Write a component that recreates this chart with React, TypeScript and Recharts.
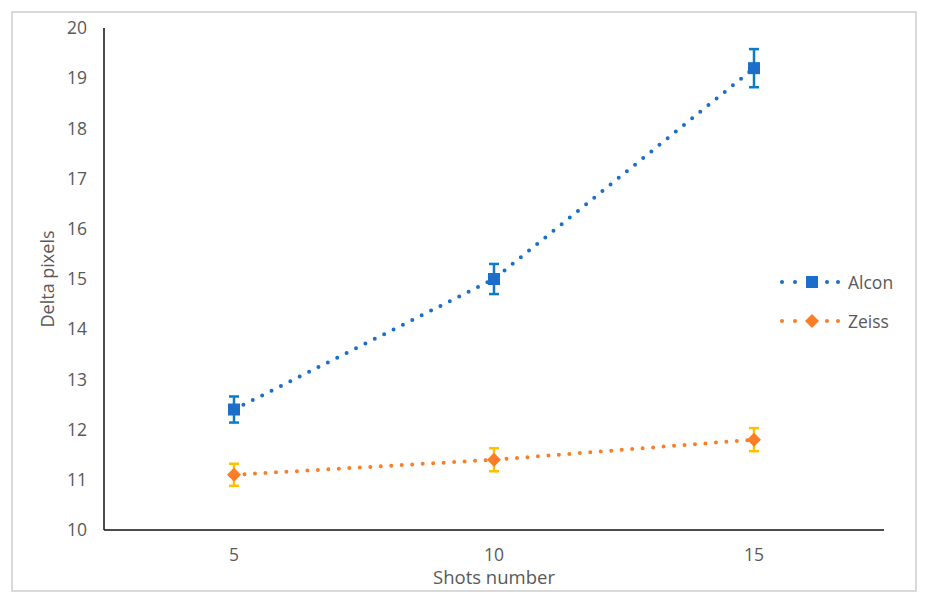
import React from "react"
import { LineChart, Line, XAxis, YAxis, ErrorBar } from "recharts"

const shots = [5, 10, 15]
const alcon = [12.4, 15.0, 19.2]
const alconErr = [0.26, 0.3, 0.38]
const zeiss = [11.1, 11.4, 11.8]
const zeissErr = [0.22, 0.23, 0.23]
const yTicks = [10, 11, 12, 13, 14, 15, 16, 17, 18, 19, 20]
const seriesNames = ["Alcon", "Zeiss"]

const BLUE = "#1B6FCB"
const BLUE_ERR = "#0B7DC8"
const ORANGE = "#FB7D26"
const YELLOW = "#FFC000"
const TEXT = "#595959"
const FONT = "'Open Sans', sans-serif"

const data = shots.map((s, i) => ({
  shots: s,
  alcon: alcon[i],
  alconErr: alconErr[i],
  zeiss: zeiss[i],
  zeissErr: zeissErr[i],
}))

function SquareDot(props: any) {
  const { cx, cy } = props
  if (cx == null || cy == null) return null
  return <rect x={cx - 6} y={cy - 6} width={12} height={12} fill={BLUE} />
}

function DiamondDot(props: any) {
  const { cx, cy } = props
  if (cx == null || cy == null) return null
  return <path d={`M${cx},${cy - 7}L${cx + 7},${cy}L${cx},${cy + 7}L${cx - 7},${cy}Z`} fill={ORANGE} />
}

// legend swatch: dotted line with the series marker in the middle
function LegendIcon({ kind }: { kind: "square" | "diamond" }) {
  const color = kind === "square" ? BLUE : ORANGE
  return (
    <svg width={62} height={16} style={{ display: "block" }}>
      {[2, 15, 47, 58].map((x) => (
        <circle key={x} cx={x} cy={8} r={2} fill={color} />
      ))}
      {kind === "square" ? (
        <rect x={26} y={2} width={12} height={12} fill={color} />
      ) : (
        <path d="M32,1L39,8L32,15L25,8Z" fill={color} />
      )}
    </svg>
  )
}

function ChartLegend() {
  const kinds: Array<"square" | "diamond"> = ["square", "diamond"]
  return (
    <div style={{ position: "absolute", left: 767, top: 249, fontFamily: FONT, color: TEXT, fontSize: 17.5 }}>
      {seriesNames.map((name, i) => (
        <div key={name} style={{ display: "flex", alignItems: "center", height: 39 }}>
          <LegendIcon kind={kinds[i]} />
          <span style={{ marginLeft: 6, lineHeight: "20px" }}>{name}</span>
        </div>
      ))}
    </div>
  )
}

export default function App() {
  return (
    <div
      style={{
        position: "relative",
        width: 906,
        height: 581,
        marginLeft: 3,
        marginTop: 3,
        border: "2px solid #D9D9D9",
        boxSizing: "border-box",
        background: "#fff",
      }}
    >
      <LineChart width={902} height={577} data={data} margin={{ top: 15, right: 31, bottom: 4, left: 30 }}>
        <XAxis
          dataKey="shots"
          type="number"
          domain={[2.5, 17.5]}
          ticks={shots}
          axisLine={{ stroke: "#111", strokeWidth: 1.5 }}
          tickLine={false}
          tickMargin={13}
          height={56}
          tick={{ fill: TEXT, fontSize: 17.5, fontFamily: FONT }}
          label={{ value: "Shots number", position: "insideBottom", offset: 2, fill: TEXT, fontSize: 18.5, fontFamily: FONT }}
        />
        <YAxis
          type="number"
          domain={[10, 20]}
          ticks={yTicks}
          interval={0}
          width={61}
          axisLine={{ stroke: "#111", strokeWidth: 1.5 }}
          tickLine={false}
          tickMargin={11}
          tick={{ fill: TEXT, fontSize: 17.5, fontFamily: FONT }}
          label={{
            value: "Delta pixels",
            angle: -90,
            position: "insideLeft",
            offset: 5,
            fill: TEXT,
            fontSize: 18,
            fontFamily: FONT,
            style: { textAnchor: "middle" },
          }}
        />
        <Line
          dataKey="alcon"
          name={seriesNames[0]}
          type="linear"
          stroke={BLUE}
          strokeWidth={4}
          strokeLinecap="round"
          strokeDasharray="0 10.5"
          dot={<SquareDot />}
          activeDot={false}
          isAnimationActive={false}
        >
          <ErrorBar dataKey="alconErr" width={5} stroke={BLUE_ERR} strokeWidth={2.5} direction="y" />
        </Line>
        <Line
          dataKey="zeiss"
          name={seriesNames[1]}
          type="linear"
          stroke={ORANGE}
          strokeWidth={4}
          strokeLinecap="round"
          strokeDasharray="0 10.5"
          dot={<DiamondDot />}
          activeDot={false}
          isAnimationActive={false}
        >
          <ErrorBar dataKey="zeissErr" width={5} stroke={YELLOW} strokeWidth={2.5} direction="y" />
        </Line>
      </LineChart>
      <ChartLegend />
    </div>
  )
}
